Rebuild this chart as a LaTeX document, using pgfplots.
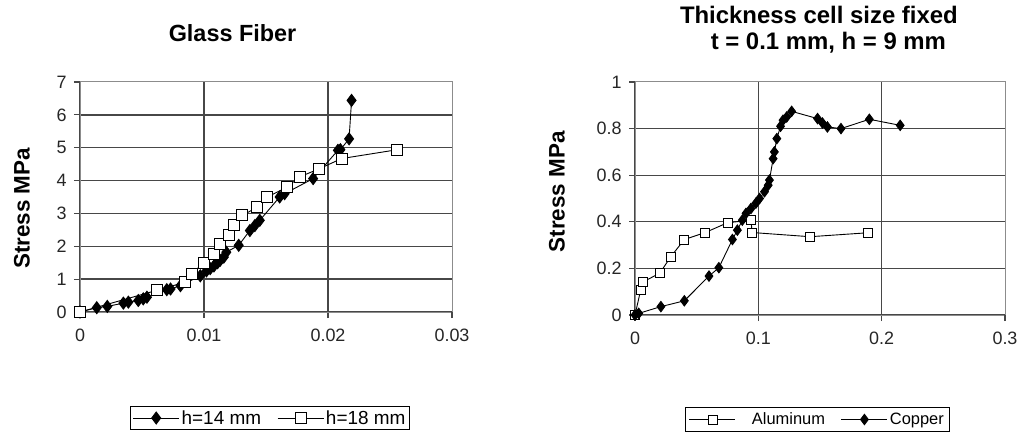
\documentclass[border=0pt]{standalone}
\usepackage{pgfplots}
\pgfplotsset{compat=1.18}
\usepackage{fontspec}
\setmainfont{Liberation Sans}
\begin{document}
\begin{tikzpicture}
\useasboundingbox (0,0) rectangle (1019bp,440bp);
\pgfplotsset{
 common/.style={
   scale only axis,
   scaled x ticks=false, scaled y ticks=false,
   axis line style={draw=black!45, line width=1bp},
   grid=major,
   grid style={draw=black!72, line width=1.3bp},
   tick pos=left,
   tick align=outside,
   major tick length=6bp,
   tick style={draw=black!72, line width=1.2bp},
   ticklabel style={font=\fontsize{18}{18}\selectfont, text=black!85},
   xticklabel style={yshift=-7bp},
   yticklabel style={xshift=-4bp},
   /pgf/number format/assume math mode=true,
   legend style={draw=black, line width=1bp, legend columns=2, anchor=center, inner sep=2bp,
      /tikz/every even column/.append style={column sep=14bp}},
   legend cell align=left,
   legend image code/.code={\draw[mark repeat=2, mark phase=2] plot coordinates {(0bp,0bp) (23bp,0bp) (46bp,0bp)};},
   every axis title/.style={align=center},
 },
 mdia/.style={black, line width=0.9bp, mark=diamond*, mark options={fill=black, solid}},
 msq/.style={black, line width=0.9bp, mark=square*, mark options={fill=white, solid}},
}
% ---------------- left ----------------
\begin{axis}[common,
  at={(80bp,128bp)}, anchor=south west,
  width=372bp, height=230bp,
  xmin=0, xmax=0.03, ymin=0, ymax=7,
  xtick={0,0.01,0.02}, xticklabels={0,0.01,0.02},
  extra x ticks={0.03}, extra x tick labels={0.03}, extra x tick style={grid=none},
  ytick={0,1,2,3,4,5,6}, yticklabels={0,1,2,3,4,5,6},
  extra y ticks={7}, extra y tick labels={7}, extra y tick style={grid=none},
  title={Glass Fiber},
  title style={at={(0.41,1)}, anchor=base, yshift=40bp, font=\bfseries\fontsize{23.5}{26}\selectfont},
  ylabel={Stress MPa},
  every axis y label/.style={at={(axis description cs:-0.156,0.45)}, rotate=90, anchor=center, font=\bfseries\fontsize{22.5}{22.5}\selectfont},
  legend style={at={(0.511,-0.461)}, font=\fontsize{19}{19}\selectfont},
]
\addplot[mdia, mark size=6bp] coordinates {
(0,0) (0.00135,0.13) (0.0022,0.17) (0.0035,0.27) (0.0039,0.30) (0.0047,0.35) (0.0051,0.40) (0.0054,0.45)
(0.0070,0.68) (0.0073,0.70) (0.0081,0.80) (0.0097,1.10) (0.0102,1.25) (0.0105,1.32) (0.0108,1.40)
(0.0111,1.50) (0.0113,1.57) (0.0116,1.67) (0.0118,1.82) (0.0128,2.03) (0.0137,2.48) (0.0141,2.63)
(0.0145,2.79) (0.0161,3.50) (0.0165,3.60) (0.0188,4.06) (0.0208,4.92) (0.0210,4.94) (0.0217,5.27) (0.0219,6.44)
};
\addlegendentry{h=14 mm}
\addplot[msq, mark size=5.5bp] coordinates {
(0,0) (0.0062,0.66) (0.0085,0.91) (0.0090,1.17) (0.0100,1.50) (0.0108,1.77) (0.0113,2.08)
(0.0120,2.36) (0.0124,2.64) (0.0131,2.94) (0.0143,3.19) (0.0151,3.50) (0.0167,3.80)
(0.0177,4.11) (0.0193,4.36) (0.0211,4.67) (0.0256,4.94)
};
\addlegendentry{h=18 mm}
\end{axis}
% ---------------- right ----------------
\begin{axis}[common,
  at={(635bp,125bp)}, anchor=south west,
  width=370bp, height=233bp,
  xmin=0, xmax=0.3, ymin=0, ymax=1,
  xtick={0,0.1,0.2}, xticklabels={0,0.1,0.2},
  extra x ticks={0.3}, extra x tick labels={0.3}, extra x tick style={grid=none},
  ytick={0,0.2,0.4,0.6,0.8}, yticklabels={0,0.2,0.4,0.6,0.8},
  extra y ticks={1}, extra y tick labels={1}, extra y tick style={grid=none},
  title={Thickness cell size fixed\\\hspace*{19bp}t = 0.1 mm, h = 9 mm},
  title style={at={(0.497,1)}, anchor=south, yshift=25bp, font=\bfseries\fontsize{24}{26}\selectfont},
  ylabel={Stress MPa},
  every axis y label/.style={at={(axis description cs:-0.211,0.529)}, rotate=90, anchor=center, font=\bfseries\fontsize{22.5}{22.5}\selectfont},
  legend style={at={(0.493,-0.4485)}, font=\fontsize{16.5}{16.5}\selectfont, inner sep=3.5bp},
]
\addplot[msq, mark size=4.5bp] coordinates {
(0,0) (0.0046,0.107) (0.0068,0.143) (0.020,0.179) (0.029,0.25) (0.040,0.324) (0.057,0.354)
(0.075,0.396) (0.094,0.407) (0.095,0.354) (0.142,0.336) (0.189,0.353)
};
\addlegendentry{\hspace*{14bp}Aluminum}
\addplot[mdia, mark size=5.2bp] coordinates {
(0,0) (0.003,0.007) (0.021,0.036) (0.040,0.061) (0.060,0.167) (0.068,0.203) (0.079,0.324)
(0.083,0.364) (0.087,0.407) (0.090,0.436) (0.094,0.457) (0.098,0.48) (0.101,0.50) (0.105,0.529)
(0.108,0.557) (0.109,0.579) (0.112,0.671) (0.113,0.70) (0.115,0.757) (0.118,0.81) (0.120,0.836)
(0.123,0.85) (0.127,0.874) (0.148,0.843) (0.152,0.824) (0.156,0.807) (0.167,0.80) (0.190,0.84) (0.215,0.814)
};
\addlegendentry{Copper}
\end{axis}
\end{tikzpicture}
\end{document}
